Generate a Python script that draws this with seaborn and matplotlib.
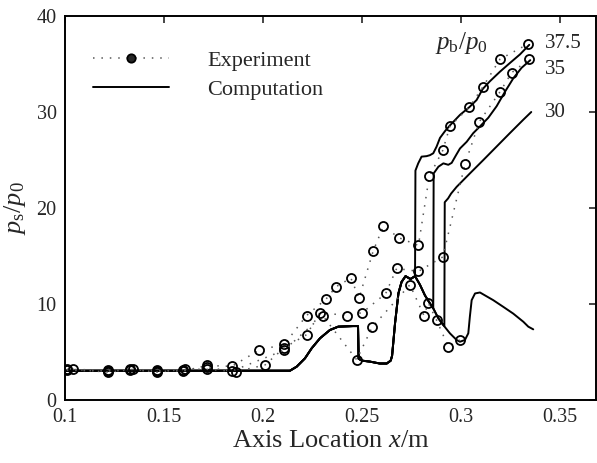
import matplotlib
matplotlib.use("Agg")
import matplotlib.pyplot as plt
from matplotlib.lines import Line2D
import seaborn as sns

# ---------------- data ----------------
# computed wall-pressure (common/low branch)
comp_base_x = [0.100, 0.2136, 0.2170, 0.2212, 0.2246, 0.2288, 0.2338, 0.2380, 0.2456, 0.2480,
               0.2483, 0.2500, 0.2540, 0.2590, 0.2625, 0.2645, 0.2652, 0.2667, 0.2684, 0.2700,
               0.2720, 0.2745, 0.2768, 0.2793, 0.2818, 0.2843, 0.2860, 0.2886, 0.2911, 0.2944,
               0.2978, 0.2995, 0.3020, 0.3037, 0.3045, 0.3054, 0.3071, 0.3096, 0.3121, 0.3163,
               0.3214, 0.3264, 0.3315, 0.3340, 0.3365]
comp_base_v = [3.05, 3.05, 3.47, 4.34, 5.39, 6.43, 7.29, 7.64, 7.7, 7.7,
               4.3, 4.1, 4.0, 3.8, 3.8, 4.1, 4.6, 8.0, 11.1, 12.3,
               12.9, 12.6, 12.9, 12.0, 10.9, 10.07, 9.55, 8.5, 7.8, 6.95,
               6.25, 6.07, 6.25, 6.95, 8.7, 10.4, 11.1, 11.2, 10.9, 10.4,
               9.7, 9.0, 8.15, 7.64, 7.36]

# upper branches after the jump, pb/p0 = 37.5, 35, 30
comp375_x = [0.2768, 0.2770, 0.2784, 0.2801, 0.2826, 0.2843, 0.2860, 0.2877, 0.2894, 0.2919,
             0.2944, 0.2995, 0.3042, 0.3079, 0.3110, 0.3146, 0.3197, 0.3247, 0.3298, 0.3345]
comp375_v = [12.9, 23.9, 24.65, 25.35, 25.4, 25.5, 25.7, 26.4, 27.3, 28.0,
             28.6, 29.7, 30.5, 31.25, 32.4, 33.2, 34.2, 35.1, 36.0, 37.0]
comp35_x = [0.2860, 0.2862, 0.2886, 0.2911, 0.2936, 0.2953, 0.2975, 0.2995, 0.3029, 0.3062,
            0.3096, 0.3138, 0.3180, 0.3222, 0.3264, 0.3306, 0.3350]
comp35_v = [9.55, 23.6, 24.3, 24.65, 24.5, 24.7, 25.5, 26.2, 26.9, 27.8,
            28.5, 29.4, 30.6, 32.1, 33.5, 34.6, 35.4]
comp30_x = [0.2916, 0.2918, 0.2935, 0.2950, 0.2978, 0.3045, 0.3113, 0.3180, 0.3247, 0.3315, 0.3355]
comp30_v = [7.7, 20.6, 21.0, 21.5, 22.2, 23.6, 25.0, 26.4, 27.8, 29.2, 30.0]

# experiments
exp375_x = [0.1009, 0.1219, 0.1328, 0.1463, 0.1594, 0.1716, 0.1842, 0.1981, 0.2108, 0.2220,
            0.2318, 0.2369, 0.2444, 0.2485, 0.2557, 0.2608, 0.2687, 0.2785, 0.2840, 0.2908,
            0.2944, 0.3042, 0.3110, 0.3197, 0.3340]
exp375_v = [3.2, 3.1, 3.2, 3.1, 3.0, 3.6, 3.5, 5.2, 5.8, 8.8,
            10.5, 11.8, 12.7, 10.6, 15.55, 18.1, 16.9, 16.1, 23.3, 26.0,
            28.5, 30.5, 32.6, 35.5, 37.1]
exp35_x = [0.1039, 0.1219, 0.1345, 0.1463, 0.1606, 0.1716, 0.1864, 0.2010, 0.2108, 0.2220,
           0.2288, 0.2426, 0.2502, 0.2620, 0.2675, 0.2785, 0.2908, 0.3020, 0.3093, 0.3197,
           0.3256, 0.3345]
exp35_v = [3.2, 2.9, 3.2, 2.9, 3.2, 3.2, 2.95, 3.65, 5.45, 6.8,
           9.1, 8.8, 9.1, 11.1, 13.7, 13.4, 14.9, 24.55, 29.0, 32.1,
           34.1, 35.5]
exp30_x = [0.1009, 0.1219, 0.1328, 0.1463, 0.1594, 0.1716, 0.1842, 0.2108, 0.2301, 0.2473,
           0.2552, 0.2742, 0.2813, 0.2835, 0.2877, 0.2936, 0.2995]
exp30_v = [3.1, 3.0, 3.1, 3.0, 3.1, 3.4, 3.0, 5.2, 8.8, 4.2,
           7.6, 12.0, 8.8, 10.1, 8.3, 5.55, 6.25]

case_labels = ["37.5", "35", "30"]
case_label_y = [37.15, 34.4, 29.9]
x_ticks = [0.1, 0.15, 0.2, 0.25, 0.3, 0.35]
x_tick_labels = ["0.1", "0.15", "0.2", "0.25", "0.3", "0.35"]
y_ticks = [0, 10, 20, 30, 40]

# ---------------- style ----------------
sns.set_style("white")
plt.rcParams["font.family"] = ["Liberation Serif", "DejaVu Serif"]
plt.rcParams["mathtext.fontset"] = "custom"
plt.rcParams["mathtext.rm"] = "Liberation Serif"
plt.rcParams["mathtext.it"] = "Liberation Serif:italic"
plt.rcParams["axes.linewidth"] = 1.4
plt.rcParams["xtick.direction"] = "in"
plt.rcParams["ytick.direction"] = "in"

fig = plt.figure(figsize=(5.97, 4.63), dpi=100)
ax = fig.add_axes([65 / 597, 1 - 400 / 463, 531 / 597, 384 / 463])

line_kw = dict(color="black", linewidth=1.4, sort=False, estimator=None)


def branch(bx, bv):
    xs = [x for x in comp_base_x if x < bx[0]] + list(bx)
    vs = [v for x, v in zip(comp_base_x, comp_base_v) if x < bx[0]] + list(bv)
    return xs, vs


sns.lineplot(x=comp_base_x, y=comp_base_v, ax=ax, **line_kw)
for bx, bv in [(comp375_x, comp375_v), (comp35_x, comp35_v), (comp30_x, comp30_v)]:
    xs, vs = branch(bx, bv)
    sns.lineplot(x=xs, y=vs, ax=ax, **line_kw)

exp_kw = dict(color="0.35", linewidth=1.1, linestyle=(0, (1, 4.5)), sort=False, estimator=None,
              marker="o", markersize=6.5, markerfacecolor="none", markeredgecolor="black",
              markeredgewidth=1.3)
for ex, ev in [(exp375_x, exp375_v), (exp35_x, exp35_v), (exp30_x, exp30_v)]:
    sns.lineplot(x=ex, y=ev, ax=ax, **exp_kw)

ax.set_xlim(0.1, 0.3682)
ax.set_ylim(0, 40)
ax.set_xticks(x_ticks)
ax.set_xticklabels(x_tick_labels)
ax.set_yticks(y_ticks)
ax.tick_params(axis="both", which="both", direction="in", top=True, right=True,
               length=5, width=1.2, labelsize=14.5, pad=6)
for s in ax.spines.values():
    s.set_visible(True)
    s.set_color("black")

ax.set_xlabel("Axis Location $x$/m", fontsize=19, labelpad=2)
ax.set_ylabel("$p_{\\rm s}/p_0$", fontsize=19, labelpad=6)

for lab, yv in zip(case_labels, case_label_y):
    ax.text(0.3424, yv, lab, fontsize=15, ha="left", va="center")
ax.text(0.2869, 37.2, "$p_{\\rm b}/p_0$", fontsize=18, ha="left", va="center")

handles = [
    Line2D([], [], color="0.35", linewidth=1.1, linestyle=(0, (1, 4.5)), marker="o",
           markersize=6, markerfacecolor="0.15", markeredgecolor="black", markeredgewidth=1.3),
    Line2D([], [], color="black", linewidth=1.4),
]
ax.legend(handles, ["Experiment", "Computation"], loc="upper left",
          bbox_to_anchor=(0.0527, 0.911), frameon=False, fontsize=16,
          handlelength=3.4, handletextpad=1.75, labelspacing=0.4,
          borderpad=0, borderaxespad=0)

fig.savefig("out.png", dpi=100)
